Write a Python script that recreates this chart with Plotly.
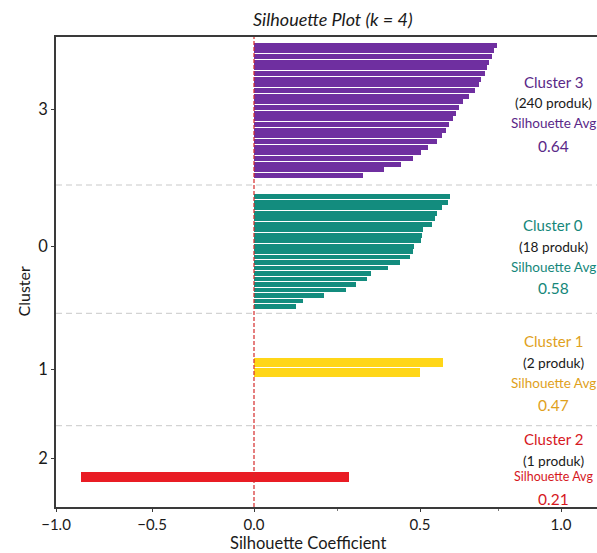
import numpy as np
import plotly.graph_objects as go

# ---------------- data ----------------
cluster_order = ["3", "0", "1", "2"]          # top to bottom
cluster_counts = [240, 18, 2, 1]
cluster_avgs = [0.64, 0.58, 0.47, 0.21]

cluster3_values = [0.772, 0.762, 0.755, 0.744, 0.737, 0.729, 0.717, 0.709,
                   0.695, 0.674, 0.652, 0.639, 0.628, 0.617, 0.603, 0.592,
                   0.577, 0.559, 0.527, 0.504, 0.479, 0.444, 0.393, 0.328]
cluster0_values = [0.606, 0.600, 0.579, 0.559, 0.552, 0.543, 0.512, 0.507,
                   0.505, 0.483, 0.480, 0.469, 0.439, 0.403, 0.351, 0.339,
                   0.308, 0.276, 0.210, 0.148, 0.125]
cluster1_values = [0.583, 0.500]
cluster2_start = [-0.871]
cluster2_end = [0.286]

x_tick_vals = [-1.0, -0.5, 0.0, 0.5, 1.0]
x_tick_text = ["\u22121.0", "\u22120.5", "0.0", "0.5", "1.0"]

# ---------------- layout / style constants ----------------
W, H = 597, 553
ML, MT, MB = 56, 37, 46
# horizontal axis is drawn on a (non-uniform) display scale
TICK_POS = [56, 152, 254, 420, 561]
X_RANGE = [56, 597]


def warp(v):
    v = np.asarray(v, dtype=float)
    out = np.interp(v, x_tick_vals, TICK_POS)
    hi = v > x_tick_vals[-1]
    slope = (TICK_POS[-1] - TICK_POS[-2]) / (x_tick_vals[-1] - x_tick_vals[-2])
    out = np.where(hi, TICK_POS[-1] + (v - x_tick_vals[-1]) * slope, out)
    return out


Y_RANGE = [0, 470]
band_layout = {
    "3": dict(first=461.9, pitch=5.667, width=4.9),
    "0": dict(first=310.25, pitch=5.49, width=4.7),
    "1": dict(first=144.5, pitch=10.0, width=8.6),
    "2": dict(first=29.8, pitch=10.0, width=9.7),
}
separators = [322.0, 193.7, 81.3]
y_tick_pos = [397.7, 260.3, 137.7, 48.7]

bar_colors = {"3": "#6f2fa0", "0": "#138c7e", "1": "#ffd618", "2": "#e91c24"}
text_colors = {"3": "#5a2888", "0": "#15877a", "1": "#e0a11c", "2": "#d6181e"}
FONT = "Lato"

fig = go.Figure()

zero = float(warp(0.0))


def add_cluster(cid, starts, ends):
    lay = band_layout[cid]
    ys = [lay["first"] - i * lay["pitch"] for i in range(len(ends))]
    b = warp(starts)
    e = warp(ends)
    fig.add_trace(go.Bar(
        orientation="h", y=ys, x=(e - b), base=b,
        width=lay["width"], marker=dict(color=bar_colors[cid], line=dict(width=0)),
        showlegend=False, hoverinfo="skip",
    ))


add_cluster("3", [0.0] * len(cluster3_values), cluster3_values)
add_cluster("0", [0.0] * len(cluster0_values), cluster0_values)
add_cluster("1", [0.0] * len(cluster1_values), cluster1_values)
add_cluster("2", cluster2_start, cluster2_end)

# separators
for s in separators:
    fig.add_shape(type="line", xref="paper", x0=0, x1=1, yref="y", y0=s, y1=s,
                  line=dict(color="#c9c9c9", width=1, dash="6px,4px"), layer="below")
# zero line
fig.add_shape(type="line", xref="x", x0=zero, x1=zero, yref="paper", y0=0, y1=1,
              line=dict(color="#d42a2a", width=1.2, dash="4px,2px"))

# right-side annotations
text_blocks = {
    "3": [81.7, 102.7, 123.3, 146.0],
    "0": [225.0, 246.7, 267.3, 288.3],
    "1": [340.7, 362.3, 383.3, 405.0],
    "2": [439.3, 460.0, 476.0, 499.0],
}
TX = 553
for cid, cnt, avg in zip(cluster_order, cluster_counts, cluster_avgs):
    py = text_blocks[cid]
    col = text_colors[cid]
    small = 12.5 if cid == "2" else 13.5
    items = [
        (f"Cluster {cid}", col, 15),
        (f"({cnt} produk)", "#1a1a1a", 13.7),
        ("Silhouette Avg", col, small),
        (f"{avg:.2f}", col, 15.5),
    ]
    for (txt, c, sz), yy in zip(items, py):
        fig.add_annotation(text=txt, xref="paper", yref="paper",
                           x=(TX - ML) / (W - ML), y=1 - (yy - MT) / (H - MT - MB),
                           xanchor="center", yanchor="middle", showarrow=False,
                           font=dict(family=FONT, size=sz, color=c))

# titles as annotations for exact placement
fig.add_annotation(text="<i>Silhouette Plot (k = 4)</i>", xref="paper", yref="paper",
                   x=(333 - ML) / (W - ML), y=1 + (MT - 18.5) / (H - MT - MB),
                   xanchor="center", yanchor="middle", showarrow=False,
                   font=dict(family=FONT, size=18, color="#1a1a1a"))
fig.add_annotation(text="Silhouette Coefficient", xref="paper", yref="paper",
                   x=(307.5 - ML) / (W - ML), y=-(543 - (H - MB)) / (H - MT - MB),
                   xanchor="center", yanchor="middle", showarrow=False,
                   font=dict(family=FONT, size=16.5, color="#1a1a1a"))
fig.add_annotation(text="Cluster", xref="paper", yref="paper", textangle=-90,
                   x=-(ML - 22.5) / (W - ML), y=1 - (292 - MT) / (H - MT - MB),
                   xanchor="center", yanchor="middle", showarrow=False,
                   font=dict(family=FONT, size=16, color="#1a1a1a"))

fig.update_layout(
    width=W, height=H,
    margin=dict(l=ML, r=0, t=MT, b=MB, pad=0),
    paper_bgcolor="white", plot_bgcolor="white",
    bargap=0, barmode="overlay",
    font=dict(family=FONT, color="#1a1a1a"),
    xaxis=dict(range=X_RANGE, tickmode="array", tickvals=list(warp(x_tick_vals)),
               ticktext=x_tick_text, showgrid=False, zeroline=False,
               showline=True, linecolor="#3a3a3a", linewidth=1.5, mirror=True,
               ticks="outside", ticklen=3, tickcolor="#3a3a3a",
               tickfont=dict(family=FONT, size=15, color="#1a1a1a"),
               minor=dict(tickvals=[float(warp(0.25)), 498.0], ticks="outside",
                          ticklen=2, tickcolor="#777")),
    yaxis=dict(range=Y_RANGE, tickmode="array", tickvals=y_tick_pos,
               ticktext=cluster_order, showgrid=False, zeroline=False,
               showline=True, linecolor="#3a3a3a", linewidth=1.5, mirror=False,
               ticks="outside", ticklen=3, tickcolor="#3a3a3a",
               tickfont=dict(family=FONT, size=16.5, color="#1a1a1a")),
)

fig.write_html("out.html",
               config={"displayModeBar": False},
               post_script="document.body.style.margin='0px';"
                           "document.body.style.overflow='hidden';")
